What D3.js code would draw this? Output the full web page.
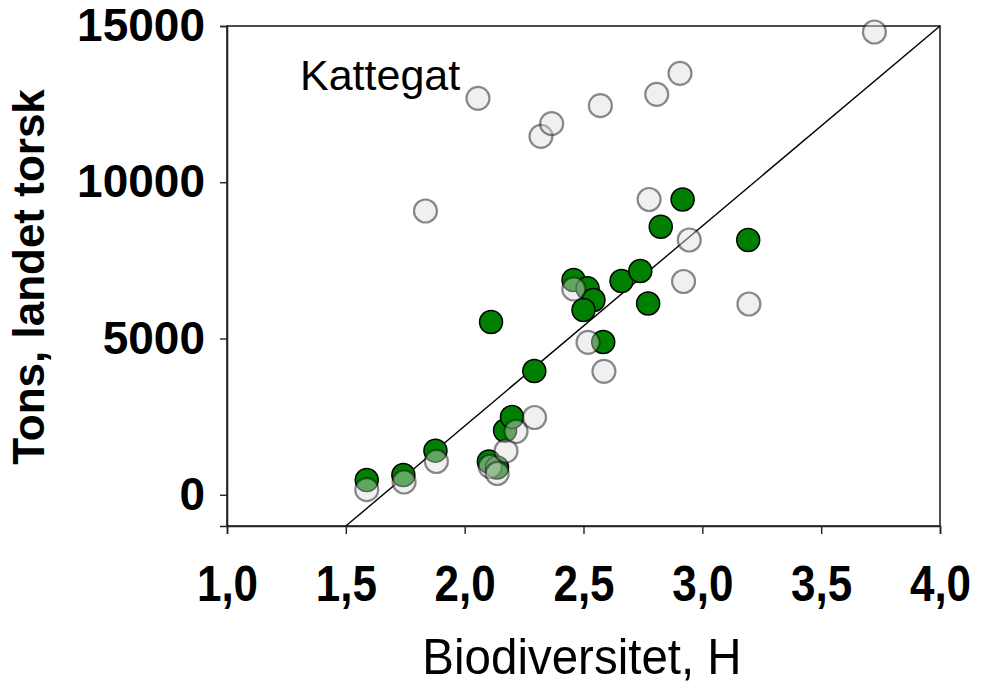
<!DOCTYPE html>
<html><head><meta charset="utf-8">
<script src="https://cdn.jsdelivr.net/npm/d3@7"></script>
<style>body{margin:0;background:#fff}svg{display:block}</style>
</head><body>
<svg id="c" width="982" height="686"></svg>
<script>
// Green series (H, tons)
const greenH = [1.588,1.742,1.877,2.102,2.136,2.170,2.199,2.111,2.293,2.458,2.517,2.542,2.500,2.583,2.660,2.739,2.772,2.825,2.917,3.193];
const greenT = [472,632,1410,1064,872,2056,2488,5528,3960,6872,6606,6232,5912,4888,6840,7160,6120,8577,9448,8152];
// Grey series (H, tons) incl. Kattegat
const greyH = [1.588,1.745,1.881,2.107,2.137,2.174,2.216,2.294,2.459,2.519,2.586,2.776,2.945,2.921,3.196,1.835,2.056,2.321,2.366,2.571,2.808,2.906,3.724];
const greyT = [162,408,1064,904,680,1400,2024,2472,6584,4878,3950,9448,8152,6824,6104,9080,12686,11470,11874,12450,12814,13486,14808];
// Reference line endpoints
const lineH = [1.5,4.0];
const lineT = [-1000,15000];
const xTicks = [1.0,1.5,2.0,2.5,3.0,3.5,4.0];
const yTicks = [0,5000,10000,15000];
const xTitle = "Biodiversitet, H";
const yTitle = "Tons, landet torsk";
const note = "Kattegat";

const svg = d3.select("#c");
const F = "'Liberation Sans', Arial, sans-serif";
const L = 227, R = 940, T = 26, B = 526;
const x = d3.scaleLinear().domain([1,4]).range([L,R]);
const y = d3.scaleLinear().domain([-1000,15000]).range([B,T]);

// frame
svg.append("rect").attr("x",L).attr("y",T).attr("width",R-L).attr("height",B-T)
  .attr("fill","none").attr("stroke","#222").attr("stroke-width",1.6);

// x axis
const xa = svg.append("g").attr("transform",`translate(0,${B})`)
  .call(d3.axisBottom(x).tickValues(xTicks).tickSize(8).tickPadding(0).tickFormat(()=>""));
xa.select(".domain").attr("stroke","#222").attr("stroke-width",1.6);
xa.selectAll(".tick line").attr("stroke","#222").attr("stroke-width",1.4);
xa.selectAll(".tick").append("g").attr("transform","translate(0,75) scale(0.88,1)")
  .append("text").text(d=>d.toFixed(1).replace(".",","))
  .attr("text-anchor","middle").attr("fill","#000")
  .style("font-family",F).style("font-weight","bold").style("font-size","50px");

// y axis
const ya = svg.append("g").attr("transform",`translate(${L},0)`)
  .call(d3.axisLeft(y).tickValues(yTicks).tickSize(7).tickPadding(15).tickFormat(d=>String(d)));
ya.select(".domain").attr("stroke","#222").attr("stroke-width",1.6);
ya.selectAll(".tick line").attr("stroke","#222").attr("stroke-width",1.4);
ya.selectAll(".tick text").attr("fill","#000")
  .style("font-family",F).style("font-weight","bold").style("font-size","46px");

// titles
svg.append("g").attr("transform","translate(582,674) scale(0.95,1)")
  .append("text").text(xTitle).attr("text-anchor","middle")
  .style("font-family",F).style("font-size","50px").attr("fill","#000");
svg.append("text").text(yTitle).attr("text-anchor","middle")
  .attr("transform","translate(44,277) rotate(-90)")
  .style("font-family",F).style("font-weight","bold").style("font-size","44px").attr("fill","#000");

// line
svg.append("path").datum(lineH.map((h,i)=>[h,lineT[i]]))
  .attr("d",d3.line().x(d=>x(d[0])).y(d=>y(d[1])))
  .attr("fill","none").attr("stroke","#000").attr("stroke-width",1.4);

// points
svg.append("g").selectAll("circle").data(greenH.map((h,i)=>[h,greenT[i]])).join("circle")
  .attr("cx",d=>x(d[0])).attr("cy",d=>y(d[1])).attr("r",11.5)
  .attr("fill","#008000").attr("stroke","#000").attr("stroke-width",1.5);
svg.append("g").selectAll("circle").data(greyH.map((h,i)=>[h,greyT[i]])).join("circle")
  .attr("cx",d=>x(d[0])).attr("cy",d=>y(d[1])).attr("r",11.5)
  .attr("fill","#dcdcdc").attr("fill-opacity",0.43)
  .attr("stroke","#000").attr("stroke-opacity",0.45).attr("stroke-width",2.2);

// annotation
svg.append("text").text(note).attr("x",300).attr("y",90)
  .style("font-family",F).style("font-size","43px").attr("fill","#000");
</script>
</body></html>
